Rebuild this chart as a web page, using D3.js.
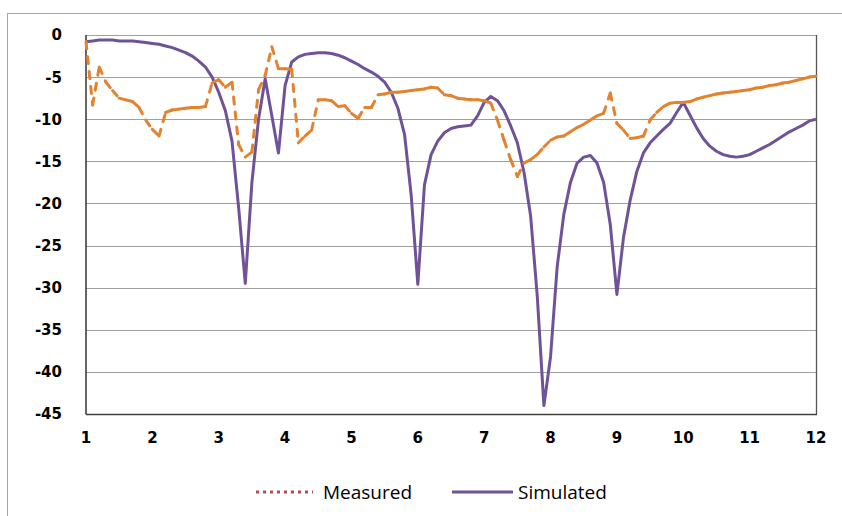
<!DOCTYPE html>
<html>
<head>
<meta charset="utf-8">
<script src="https://cdn.jsdelivr.net/npm/d3@7/dist/d3.min.js"></script>
<style>
  html, body { margin: 0; padding: 0; background: #fff; }
  svg { display: block; }
</style>
</head>
<body>
<svg id="chart" width="842" height="516"></svg>
<script>
// ---- data ----
const xTicks = [1, 2, 3, 4, 5, 6, 7, 8, 9, 10, 11, 12];
const yTicks = [0, -5, -10, -15, -20, -25, -30, -35, -40, -45];
const seriesNames = ["Measured", "Simulated"];

// sample positions 1.0 .. 12.0 (step 0.1)
const xs = d3.range(0, 111).map(i => +(1 + i / 10).toFixed(1));

const measured = [
  -0.8, -8.3, -3.8, -5.6, -6.6, -7.5, -7.7, -7.9, -8.6, -10.1,   // 1.0-1.9
  -11.2, -12.0, -9.2, -8.9, -8.8, -8.7, -8.6, -8.6, -8.5, -5.7,  // 2.0-2.9
  -5.3, -6.2, -5.6, -13.0, -14.5, -13.9, -6.5, -4.8, -1.4, -4.0, // 3.0-3.9
  -4.0, -4.1, -12.8, -12.0, -11.3, -7.7, -7.7, -7.8, -8.5, -8.4, // 4.0-4.9
  -9.3, -9.9, -8.6, -8.6, -7.1, -7.0, -6.8, -6.8, -6.7, -6.6,    // 5.0-5.9
  -6.5, -6.4, -6.2, -6.3, -7.1, -7.2, -7.5, -7.6, -7.7, -7.7,    // 6.0-6.9
  -7.8, -8.1, -10.1, -12.5, -14.8, -16.8, -15.2, -14.8, -14.2, -13.3, // 7.0-7.9
  -12.5, -12.1, -12.0, -11.5, -11.0, -10.6, -10.1, -9.6, -9.3, -6.9,  // 8.0-8.9
  -10.5, -11.3, -12.3, -12.2, -12.0, -10.1, -9.2, -8.5, -8.1, -8.0,   // 9.0-9.9
  -8.0, -7.9, -7.6, -7.4, -7.2, -7.0, -6.9, -6.8, -6.7, -6.6,    // 10.0-10.9
  -6.5, -6.3, -6.2, -6.0, -5.9, -5.7, -5.6, -5.4, -5.2, -5.0,    // 11.0-11.9
  -4.9                                                           // 12.0
];

const simulated = [
  -0.8, -0.7, -0.6, -0.6, -0.6, -0.7, -0.7, -0.7, -0.8, -0.9,    // 1.0-1.9
  -1.0, -1.1, -1.3, -1.5, -1.8, -2.1, -2.5, -3.1, -3.8, -5.0,    // 2.0-2.9
  -6.8, -9.0, -12.6, -20.5, -29.5, -17.5, -10.0, -5.2, -9.6, -14.0, // 3.0-3.9
  -6.0, -3.2, -2.6, -2.3, -2.2, -2.1, -2.1, -2.2, -2.4, -2.7,    // 4.0-4.9
  -3.1, -3.5, -4.0, -4.4, -4.9, -5.6, -6.8, -8.7, -11.8, -19.0,  // 5.0-5.9
  -29.6, -17.8, -14.2, -12.6, -11.6, -11.1, -10.9, -10.8, -10.7, -9.6, // 6.0-6.9
  -8.0, -7.3, -7.8, -9.0, -10.8, -12.8, -16.3, -21.5, -31.0, -44.0,   // 7.0-7.9
  -38.2, -27.5, -21.3, -17.5, -15.2, -14.5, -14.3, -15.2, -17.5, -22.5, // 8.0-8.9
  -30.8, -24.0, -19.6, -16.2, -14.0, -12.8, -12.0, -11.2, -10.5, -9.2,  // 9.0-9.9
  -8.0, -9.5, -11.0, -12.3, -13.2, -13.8, -14.2, -14.4, -14.5, -14.4,   // 10.0-10.9
  -14.2, -13.8, -13.4, -13.0, -12.5, -12.0, -11.5, -11.1, -10.7, -10.2, // 11.0-11.9
  -10.0                                                                 // 12.0
];

// ---- chart ----
const svg = d3.select("#chart");
const W = 842, H = 516;
const plot = { left: 86, right: 816, top: 35, bottom: 414 };

const x = d3.scaleLinear().domain([1, 12]).range([plot.left, plot.right]);
const y = d3.scaleLinear().domain([-45, 0]).range([plot.bottom, plot.top]);

const colMeasured = "#E3822F";
const colSimulated = "#6E5398";
const colLegendMeasured = "#B84E4C";

// outer chart border
svg.append("rect")
  .attr("x", 7.5).attr("y", 13.5)
  .attr("width", W + 20).attr("height", H + 20)
  .attr("fill", "none").attr("stroke", "#A6A6A6").attr("stroke-width", 1);

// gridlines
svg.append("g")
  .selectAll("line")
  .data(yTicks)
  .join("line")
  .attr("x1", plot.left).attr("x2", plot.right)
  .attr("y1", d => Math.round(y(d)) + 0.5).attr("y2", d => Math.round(y(d)) + 0.5)
  .attr("stroke", "#A0A0A0").attr("stroke-width", 1.2);

// right border of plot area
svg.append("line")
  .attr("x1", plot.right + 0.5).attr("x2", plot.right + 0.5)
  .attr("y1", plot.top).attr("y2", plot.bottom)
  .attr("stroke", "#555").attr("stroke-width", 1.3);

// axes lines
svg.append("line")
  .attr("x1", plot.left).attr("x2", plot.left)
  .attr("y1", plot.top).attr("y2", plot.bottom + 0.5)
  .attr("stroke", "#404040").attr("stroke-width", 1.6);
svg.append("line")
  .attr("x1", plot.left).attr("x2", plot.right + 1)
  .attr("y1", plot.bottom + 0.5).attr("y2", plot.bottom + 0.5)
  .attr("stroke", "#404040").attr("stroke-width", 1.6);

// y tick labels
svg.append("g")
  .selectAll("text")
  .data(yTicks)
  .join("text")
  .attr("x", 62)
  .attr("y", d => y(d))
  .attr("dy", "0.36em")
  .attr("text-anchor", "end")
  .attr("font-family", "DejaVu Sans, sans-serif")
  .attr("font-weight", "bold")
  .attr("font-size", 15)
  .attr("fill", "#000")
  .text(d => d);

// x tick labels
svg.append("g")
  .selectAll("text")
  .data(xTicks)
  .join("text")
  .attr("x", d => x(d))
  .attr("y", 438)
  .attr("dy", "0.36em")
  .attr("text-anchor", "middle")
  .attr("font-family", "DejaVu Sans, sans-serif")
  .attr("font-weight", "bold")
  .attr("font-size", 15)
  .attr("fill", "#000")
  .text(d => d);

// simulated line
const line = d3.line().x(d => x(d[0])).y(d => y(d[1]));
const simPts = xs.map((v, i) => [v, simulated[i]]);
svg.append("path")
  .attr("d", line(simPts))
  .attr("fill", "none")
  .attr("stroke", colSimulated)
  .attr("stroke-width", 3)
  .attr("stroke-linejoin", "round");

// measured line: dashed, dash pattern restarting on every segment
const measPts = xs.map((v, i) => [v, measured[i]]);
const segs = d3.pairs(measPts);
svg.append("g")
  .selectAll("path")
  .data(segs)
  .join("path")
  .attr("d", d => line(d))
  .attr("fill", "none")
  .attr("stroke", colMeasured)
  .attr("stroke-width", 3)
  .attr("stroke-linecap", "round")
  .attr("stroke-dasharray", "7,8");

// legend
const legY = 492;
svg.append("line")
  .attr("x1", 256).attr("x2", 313)
  .attr("y1", legY).attr("y2", legY)
  .attr("stroke", colLegendMeasured)
  .attr("stroke-width", 3)
  .attr("stroke-dasharray", "3,4");
svg.append("text")
  .attr("x", 323).attr("y", legY).attr("dy", "0.36em")
  .attr("font-family", "Open Sans, sans-serif")
  .attr("font-size", 19).attr("fill", "#000")
  .text(seriesNames[0]);
svg.append("line")
  .attr("x1", 452).attr("x2", 513)
  .attr("y1", legY).attr("y2", legY)
  .attr("stroke", colSimulated)
  .attr("stroke-width", 3);
svg.append("text")
  .attr("x", 518).attr("y", legY).attr("dy", "0.36em")
  .attr("font-family", "Open Sans, sans-serif")
  .attr("font-size", 19).attr("fill", "#000")
  .text(seriesNames[1]);
</script>
</body>
</html>
